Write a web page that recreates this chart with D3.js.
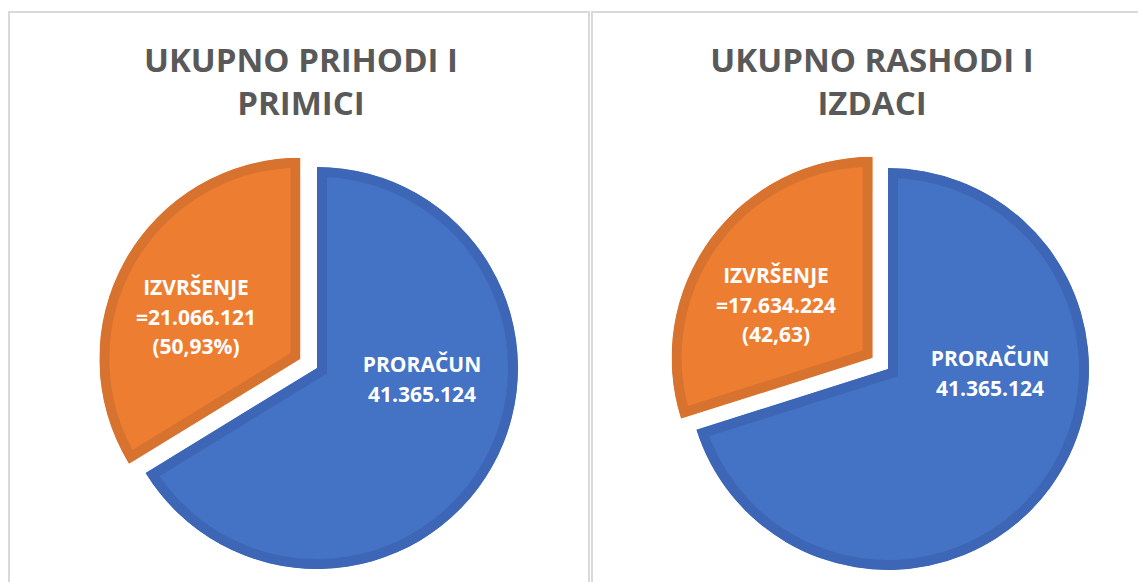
<!DOCTYPE html>
<html>
<head>
<meta charset="utf-8">
<script src="https://cdn.jsdelivr.net/npm/d3@7"></script>
<style>
  body { margin: 0; background: #fff; }
  svg { display: block; }
  .title { font-family: "Open Sans", sans-serif; font-weight: 700; fill: #595959; }
  .lbl { font-family: "Open Sans", sans-serif; font-weight: 700; fill: #fff; }
</style>
</head>
<body>
<svg id="chart" width="1138" height="582"></svg>
<script>
// data
var categories = ["PRORAČUN", "IZVRŠENJE"];
var prihodiTitle = ["UKUPNO PRIHODI I", "PRIMICI"];
var rashodiTitle = ["UKUPNO RASHODI I", "IZDACI"];
var prihodiValues = [41365124, 21066121];
var rashodiValues = [41365124, 17634224];
var prihodiLabels = [["PRORAČUN", "41.365.124"], ["IZVRŠENJE", "=21.066.121", "(50,93%)"]];
var rashodiLabels = [["PRORAČUN", "41.365.124"], ["IZVRŠENJE", "=17.634.224", "(42,63)"]];

var colors = d3.scaleOrdinal().domain(categories).range(["#4472C4", "#ED7D31"]);
var borders = d3.scaleOrdinal().domain(categories).range(["#3D67B6", "#D8732F"]);

var svg = d3.select("#chart");

function buildPie(opts) {
  // panel frame
  svg.append("rect")
    .attr("x", opts.x).attr("y", 12)
    .attr("width", opts.w).attr("height", 640)
    .attr("fill", "#fff")
    .attr("stroke", "#d9d9d9")
    .attr("stroke-width", 2);

  var t = svg.append("text").attr("class", "title")
    .attr("text-anchor", "middle")
    .style("font-size", "33px");
  opts.title.forEach(function(line, i) {
    t.append("tspan").attr("x", opts.tx).attr("y", 72 + i * 43).text(line);
  });

  var r = 201;
  var pie = d3.pie().sort(null).value(function(d) { return d; });
  var arc = d3.arc().innerRadius(0).outerRadius(r);
  var arcs = pie(opts.values);

  var g = svg.append("g").attr("transform", "translate(" + opts.cx + "," + opts.cy + ")");

  arcs.forEach(function(d, i) {
    var id = opts.id + "-clip-" + i;
    var mid = (d.startAngle + d.endAngle) / 2;
    var off = i == 1 ? 19 : 0; // exploded slice
    var sg = g.append("g")
      .attr("transform", "translate(" + (Math.sin(mid) * off) + "," + (-Math.cos(mid) * off) + ")");
    sg.append("clipPath").attr("id", id)
      .append("path").attr("d", arc(d));
    sg.append("path")
      .attr("d", arc(d))
      .attr("fill", colors(categories[i]))
      .attr("stroke", borders(categories[i]))
      .attr("stroke-width", 20)
      .attr("stroke-linejoin", "miter")
      .attr("clip-path", "url(#" + id + ")");
  });

  // data labels
  opts.labels.forEach(function(lines, i) {
    var txt = g.append("text").attr("class", "lbl")
      .attr("text-anchor", "middle")
      .style("font-size", "21px");
    lines.forEach(function(line, j) {
      txt.append("tspan")
        .attr("x", opts.labelPos[i][0])
        .attr("y", opts.labelPos[i][1] + j * 29.5)
        .text(line);
    });
  });
}

buildPie({id: "prihodi", x: 9, w: 580, tx: 301, cx: 317, cy: 368,
  title: prihodiTitle, values: prihodiValues, labels: prihodiLabels,
  labelPos: [[105, 4], [-121, -73]]});

buildPie({id: "rashodi", x: 592, w: 600, tx: 872, cx: 888, cy: 369,
  title: rashodiTitle, values: rashodiValues, labels: rashodiLabels,
  labelPos: [[102, -3], [-112, -86]]});
</script>
</body>
</html>
